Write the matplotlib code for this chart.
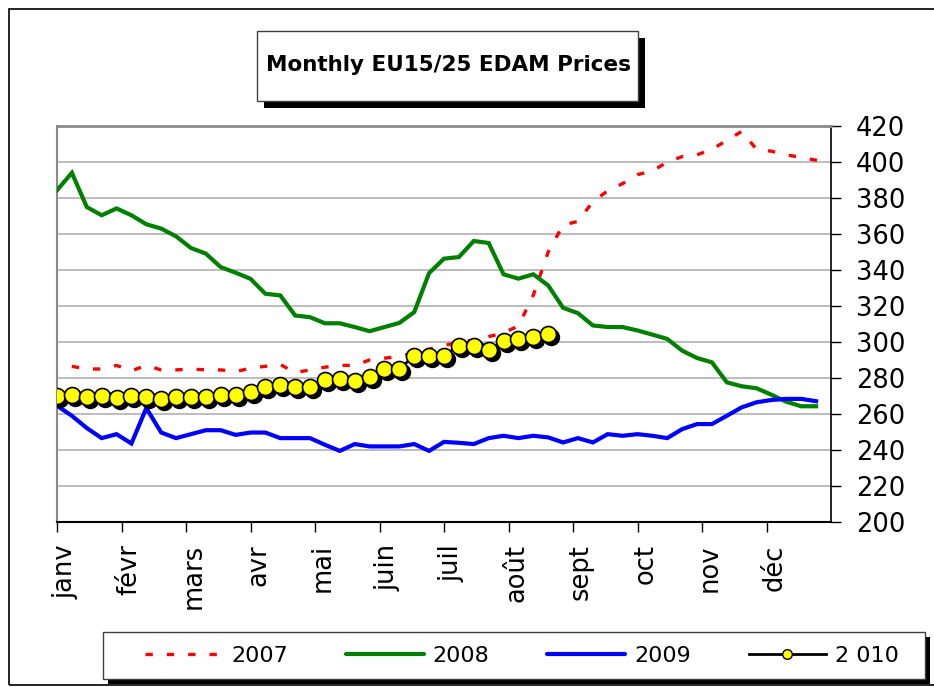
import numpy as np
import matplotlib
matplotlib.use("Agg")
import matplotlib.pyplot as plt
from matplotlib.patches import Rectangle
from matplotlib.lines import Line2D
from matplotlib.transforms import ScaledTranslation
from matplotlib import font_manager

# ---------------- data ----------------
months = ["janv", "févr", "mars", "avr", "mai", "juin", "juil", "août",
          "sept", "oct", "nov", "déc"]
yticks = [200, 220, 240, 260, 280, 300, 320, 340, 360, 380, 400, 420]

weeks_2007 = np.arange(1, 53)
values_2007 = [286.5, 285, 285, 287, 284, 287, 284.5, 284.5, 285, 284.5,
               284.5, 283.5, 285.5, 286.5, 287.5, 283, 284.5, 286, 287, 287,
               290, 291, 292, 294, 296, 298, 300, 301, 303, 305,
               309, 326, 350, 365, 367, 378, 384, 388, 393, 395,
               400, 403, 404, 407, 412, 417, 407, 406, 404, 402.5,
               401, 399]

weeks_2008 = np.arange(0, 52)
values_2008 = [384.3, 394, 375, 370.4, 374.2, 370.4, 365.4, 363, 358.7, 352.2,
               349.1, 341.6, 338.5, 335.1, 326.8, 325.9, 314.7, 313.8, 310.4, 310.4,
               308.3, 306, 308.3, 310.6, 316.6, 338.3, 346.3, 347.2, 356.1, 355,
               337.6, 335.2, 337.6, 331.4, 319, 316, 309.2, 308.3, 308.3, 306.4,
               304.1, 301.7, 295.2, 291.1, 288.7, 277.6, 275.4, 274.3, 270.7, 266.8,
               264.3, 264.3]

weeks_2009 = np.arange(0, 52)
values_2009 = [264.6, 259, 252.2, 246.6, 248.8, 243.6, 263.3, 249.7, 246.6, 248.8,
               251, 251, 248.4, 249.7, 249.7, 246.6, 246.6, 246.6, 242.9, 239.5,
               243.3, 242, 242, 242, 243.3, 239.5, 244.5, 244, 243.3, 246.6,
               247.9, 246.6, 247.9, 247, 244.2, 246.6, 244.2, 248.8, 247.9, 248.8,
               247.9, 246.6, 251.6, 254.4, 254.4, 259, 263.7, 266.5, 267.8, 268.4,
               268.4, 267.1]

weeks_2010 = np.arange(0, 34)
values_2010 = [270, 270.7, 269.6, 270, 268.9, 270, 269.6, 268.5, 269.6, 269.6,
               269.6, 270.7, 270.7, 272.2, 275.2, 276.3, 274.8, 275.2, 278.9, 279.6,
               278.5, 280.7, 285, 285, 292.4, 292.4, 292.4, 298, 298, 295.6,
               300.4, 301.7, 303, 304.5]

series_labels = ["2007", "2008", "2009", "2 010"]

# ---------------- fonts ----------------
avail = {f.name for f in font_manager.fontManager.ttflist}
fam = "DejaVu Sans"
for cand in ["Liberation Sans Narrow", "DejaVu Sans Condensed"]:
    if cand in avail:
        fam = cand
        break
plt.rcParams["font.family"] = [fam, "DejaVu Sans"]

W, H = 934, 687
fig = plt.figure(figsize=(W / 100, H / 100), dpi=100)

def fx(px):
    return px / W

def fy(py):
    return 1 - py / H

# outer border
fig.add_artist(Rectangle((fx(9), fy(685)), fx(940) - fx(9), fy(9) - fy(685),
                         transform=fig.transFigure, fill=False,
                         ec="black", lw=1.2, zorder=0))

ax = fig.add_axes([fx(57), fy(522), fx(831) - fx(57), fy(126) - fy(522)])
ax.set_xlim(0, 52)
ax.set_ylim(200, 420)

# grid and spines
ax.set_yticks(yticks)
ax.yaxis.tick_right()
ax.grid(axis="y", color="#b8b8b8", lw=1.3, zorder=0)
ax.set_axisbelow(True)
ax.spines["left"].set_color("#8a8a8a")
ax.spines["left"].set_linewidth(1.5)
ax.spines["top"].set_color("#8a8a8a")
ax.spines["top"].set_linewidth(2)
ax.spines["right"].set_color("black")
ax.spines["right"].set_linewidth(1.2)
ax.spines["bottom"].set_color("black")
ax.spines["bottom"].set_linewidth(1.5)

ax.tick_params(axis="y", direction="out", length=7, width=1, pad=11,
               labelsize=18.5, colors="black")
month_pos = [m * 52 / 12 for m in range(12)]
ax.set_xticks(month_pos)
ax.set_xticklabels(months, rotation=90, va="top", ha="center", fontsize=18.5)
ax.tick_params(axis="x", direction="out", length=7, width=1, pad=9)
for lbl in ax.get_xticklabels():
    lbl.set_transform(lbl.get_transform() + ScaledTranslation(8 / 100, 0, fig.dpi_scale_trans))

# series
ax.plot(weeks_2007, values_2007, color="red", lw=2.4,
        dashes=(2.2, 4.2), dash_capstyle="butt", zorder=2)
ax.plot(weeks_2008, values_2008, color="#008000", lw=3.0, zorder=3,
        solid_joinstyle="miter")
ax.plot(weeks_2009, values_2009, color="blue", lw=3.0, zorder=4,
        solid_joinstyle="miter")
shadow = ax.transData + ScaledTranslation(3 / 100, -3 / 100, fig.dpi_scale_trans)
ax.plot(weeks_2010, values_2010, color="black", lw=0, marker="o",
        markersize=11.5, markerfacecolor="black", markeredgecolor="black",
        transform=shadow, zorder=5)
ax.plot(weeks_2010, values_2010, color="black", lw=2, marker="o",
        markersize=11.5, markerfacecolor="#ffff00", markeredgecolor="black",
        markeredgewidth=1.2, zorder=6)

# title box
fig.add_artist(Rectangle((fx(264), fy(108)), fx(645) - fx(264), fy(38) - fy(108),
                         transform=fig.transFigure, fc="black", ec="none", zorder=1))
fig.add_artist(Rectangle((fx(257), fy(101)), fx(638) - fx(257), fy(31) - fy(101),
                         transform=fig.transFigure, fc="white", ec="#404040",
                         lw=1, zorder=2))
fig.text(fx(448), fy(65), "Monthly EU15/25 EDAM Prices", ha="center", va="center",
         fontsize=15.5, fontweight="bold", zorder=3)

# legend box
fig.add_artist(Rectangle((fx(108), fy(684)), fx(930) - fx(108), fy(637) - fy(684),
                         transform=fig.transFigure, fc="black", ec="none", zorder=1))
fig.add_artist(Rectangle((fx(103), fy(679)), fx(925) - fx(103), fy(632) - fy(679),
                         transform=fig.transFigure, fc="white", ec="#404040",
                         lw=1, zorder=2))
handles = [
    Line2D([], [], color="red", lw=2.4, dashes=(2.2, 4.2)),
    Line2D([], [], color="#008000", lw=3.0, solid_capstyle="round"),
    Line2D([], [], color="blue", lw=3.0, solid_capstyle="round"),
    Line2D([], [], color="black", lw=2, marker="o", markersize=11.5,
           markerfacecolor="#ffff00", markeredgecolor="black"),
]
leg = fig.legend(handles, series_labels, loc="center",
                 bbox_to_anchor=(fx(522), fy(656)), ncol=4, frameon=False,
                 fontsize=16, handlelength=3.5, handletextpad=0.4,
                 columnspacing=2.6, markerscale=0.6)
leg.set_zorder(3)

fig.savefig("out.png", dpi=100)
